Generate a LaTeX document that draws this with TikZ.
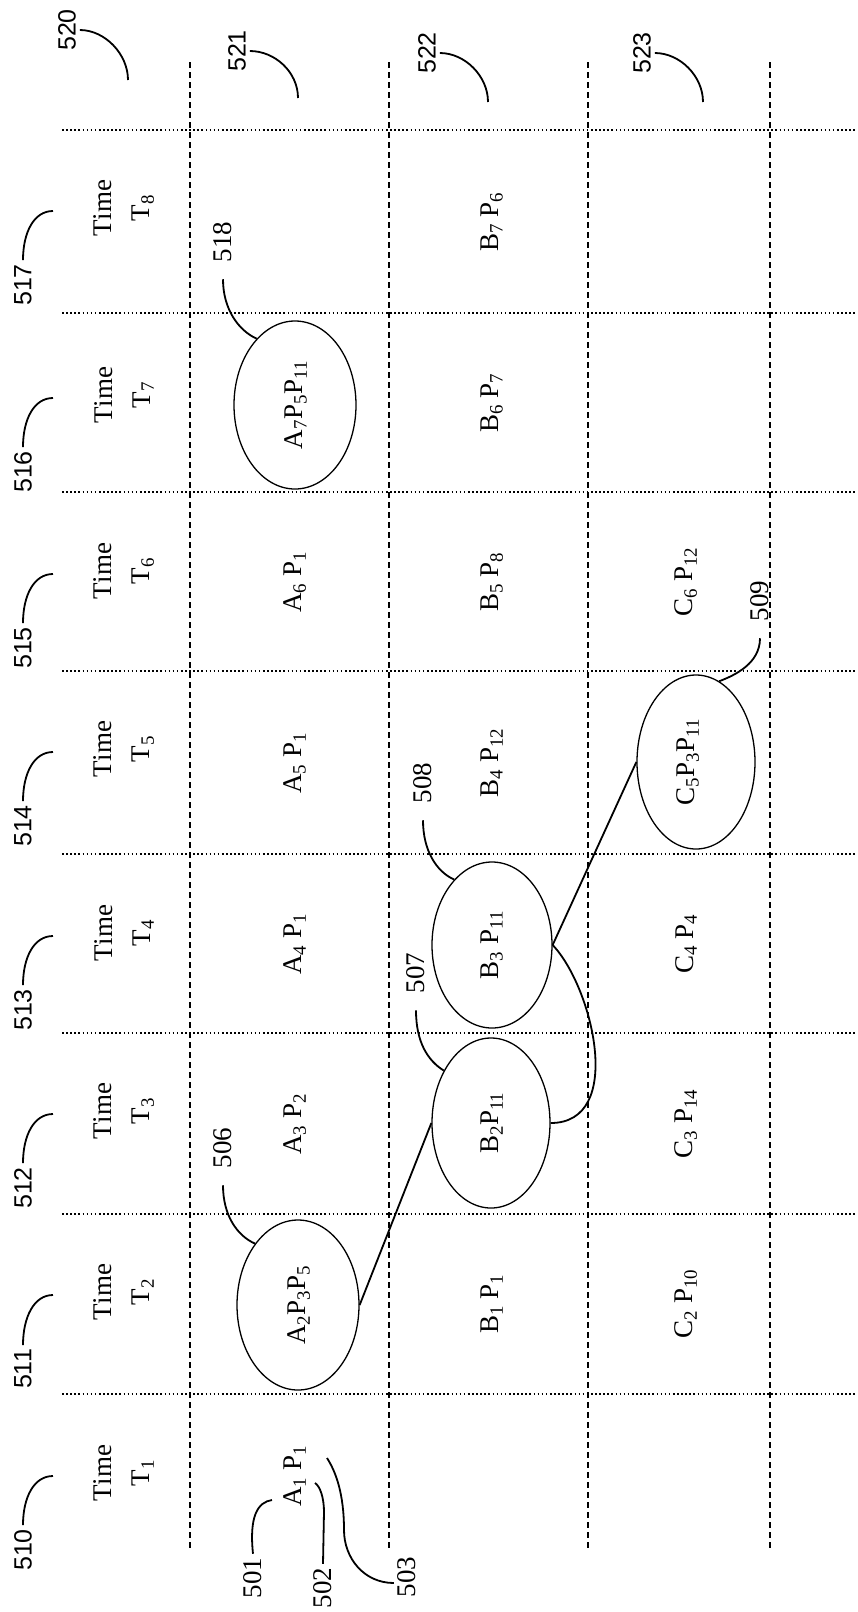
\documentclass[tikz,border=0pt]{standalone}
\usepackage{fontspec}
\setmainfont{Liberation Serif}
\newfontfamily\numsans{Liberation Sans}
\usetikzlibrary{shapes.geometric}
\begin{document}
\begin{tikzpicture}[x=1pt,y=-1pt,
  gridh/.style={line width=1.6pt, dash pattern=on 1.6pt off 2.5pt},
  gridv/.style={line width=1.8pt, dash pattern=on 6pt off 4pt},
  cell/.style={rotate=90, inner sep=0pt, font=\fontsize{27}{32}\selectfont},
  timelbl/.style={rotate=90, inner sep=0pt, align=center, font=\fontsize{27}{38}\selectfont},
  refs/.style={rotate=90, inner sep=0pt, outer sep=4pt, font=\numsans\fontsize{25}{30}\selectfont},
  refr/.style={rotate=90, inner sep=0pt, outer sep=4pt, font=\fontsize{27}{30}\selectfont},
  refe/.style={refr, outer sep=17pt},
  oval/.style={draw, ellipse, line width=1.3pt, inner sep=0pt},
  lead/.style={line width=1.8pt},
  conn/.style={line width=1.8pt}]
\useasboundingbox (0,0) rectangle (857,1612);

% grid
\foreach \yy in {130,313,492,671,854,1033,1214,1394}
  \draw[gridh] (62,\yy) -- (857,\yy);
\foreach \xx in {190,389,588,770}
  \draw[gridv] (\xx,62) -- (\xx,1550);

% time labels with reference numbers
\foreach \k/\tc/\num in {1/1473/510, 2/1292/511, 3/1111/512, 4/933/513, 5/749/514, 6/571/515, 7/395/516, 8/208/517} {
  \node[timelbl] (tl\k) at (124,\tc) {Time\\T\textsubscript{\k}};
  \node[refs] (n\num) at (23,\tc+77) {\num};
  \coordinate (c\num) at (53,\tc+3);
  \draw[lead] (n\num.east) .. controls +(0,-28) and +(-19,0) .. (c\num);
}

% column reference numbers
\node[refs] (n520) at (67,30) {520};
\node[refs] (n521) at (237,51) {521};
\node[refs] (n522) at (427,53) {522};
\node[refs] (n523) at (642,53) {523};
\coordinate (c520) at (128,80);
\coordinate (c521) at (298,98);
\coordinate (c522) at (488,102);
\coordinate (c523) at (703,102);
\foreach \num in {520,521,522,523}
  \draw[lead] (n\num.south) .. controls +(25,0) and +(0,-26) .. (c\num);

% plain cells
\node[cell] (a1) at (295,1476) {A\textsubscript{1} P\textsubscript{1}};
\node[cell] (b1) at (492,1304) {B\textsubscript{1} P\textsubscript{1}};
\node[cell] (c2) at (686,1304) {C\textsubscript{2} P\textsubscript{10}};
\node[cell] (a3) at (295,1124) {A\textsubscript{3} P\textsubscript{2}};
\node[cell] (c3) at (686,1124) {C\textsubscript{3} P\textsubscript{14}};
\node[cell] (a4) at (295,944) {A\textsubscript{4} P\textsubscript{1}};
\node[cell] (c4) at (686,944) {C\textsubscript{4} P\textsubscript{4}};
\node[cell] (a5) at (295,763) {A\textsubscript{5} P\textsubscript{1}};
\node[cell] (b4) at (492,763) {B\textsubscript{4} P\textsubscript{12}};
\node[cell] (a6) at (295,582) {A\textsubscript{6} P\textsubscript{1}};
\node[cell] (b5) at (492,582) {B\textsubscript{5} P\textsubscript{8}};
\node[cell] (c6) at (686,582) {C\textsubscript{6} P\textsubscript{12}};
\node[cell] (b6) at (492,403) {B\textsubscript{6} P\textsubscript{7}};
\node[cell] (b7) at (492,222) {B\textsubscript{7} P\textsubscript{6}};

% A1 P1 reference numbers
\node[refr] (n501) at (253,1578) {501};
\node[refr] (n502) at (323,1588) {502};
\node[refr] (n503) at (407,1577) {503};
\coordinate (c501) at (272,1500);
\coordinate (c502) at (315,1483);
\coordinate (c503) at (327,1458);
\coordinate (m503) at (344,1530);
\draw[lead] (n501.east) .. controls +(-4,-38) and +(-14,2) .. (c501);
\draw[lead] (n502.east) -- ++(1,-52) .. controls +(0,-14) and +(5,3) .. (c502);
\draw[lead] ([yshift=-6pt]n503.north) .. controls +(-30,0) and +(0,28) .. (m503)
  .. controls +(0,-36) and +(9,14) .. (c503);

% ellipses
\node[oval, minimum width=122pt, minimum height=170pt] (e506) at (298,1305) {};
\node[cell] (t506) at (299,1305) {A\textsubscript{2}P\textsubscript{3}P\textsubscript{5}};
\node[oval, minimum width=118pt, minimum height=170pt] (e507) at (491,1123) {};
\node[cell] (t507) at (492,1123) {B\textsubscript{2}P\textsubscript{11}};
\node[oval, minimum width=120pt, minimum height=166pt] (e508) at (492,945) {};
\node[cell] (t508) at (492,945) {B\textsubscript{3} P\textsubscript{11}};
\node[oval, minimum width=118pt, minimum height=174pt] (e509) at (696,762) {};
\node[cell] (t509) at (688,762) {C\textsubscript{5}P\textsubscript{3}P\textsubscript{11}};
\node[oval, minimum width=122pt, minimum height=168pt] (e518) at (295,405) {};
\node[cell] (t518) at (296,405) {A\textsubscript{7}P\textsubscript{5}P\textsubscript{11}};

% ellipse reference numbers
\node[refe] (n506) at (223,1148) {506};
\node[refe] (n507) at (416,973) {507};
\node[refe] (n508) at (423,783) {508};
\node[refe] (n509) at (760,601) {509};
\node[refe] (n518) at (223,242) {518};
\draw[lead] (n506.west) .. controls +(0,30) and +(-18,-8) .. (e506.125);
\draw[lead] (n507.west) .. controls +(0,32) and +(-16,-10) .. (e507.132);
\draw[lead] (n508.west) .. controls +(0,30) and +(-18,-8) .. (e508.120);
\draw[lead] (n509.west) .. controls +(0,25) and +(16,-6) .. (e509.74);
\draw[lead] (n518.west) .. controls +(0,30) and +(-18,-8) .. (e518.120);

% connectors
\draw[conn] (e506.east) -- (e507.west);
\draw[conn] (e508.east) -- (e509.west);
\draw[conn] (e508.east) .. controls +(40,42) and +(75,0) .. (e507.east);
\end{tikzpicture}
\end{document}
